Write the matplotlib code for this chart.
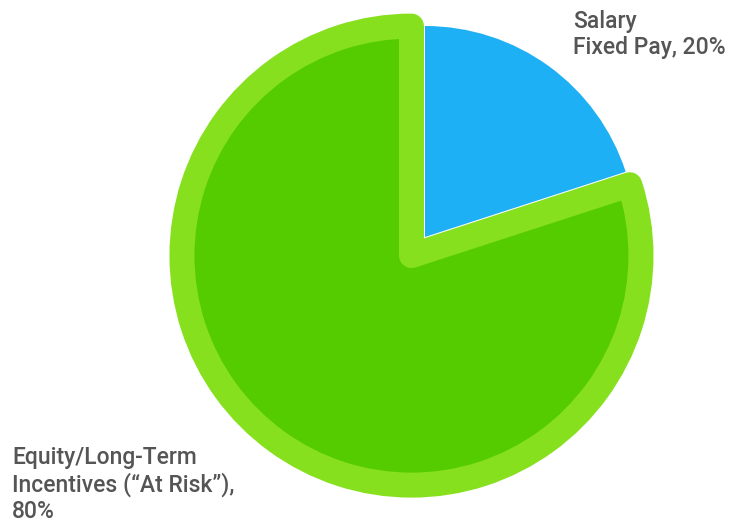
import matplotlib
matplotlib.use("Agg")
import matplotlib.pyplot as plt

categories = ["Salary Fixed Pay", "Equity/Long-Term Incentives (\u201cAt Risk\u201d)"]
values = [20, 80]
label_texts = ["Salary\nFixed Pay, 20%", "Equity/Long-Term\nIncentives (\u201cAt Risk\u201d),\n80%"]
colors = ["#1EB0F4", "#55CC00"]
border_color = "#86E01E"

W, H = 733, 525
fig = plt.figure(figsize=(W / 100, H / 100), dpi=100)
ax = fig.add_axes([0, 0, 1, 1])

wedges, _ = ax.pie(values, startangle=90, counterclock=False, colors=colors,
                   center=(425, H - 237), radius=211, explode=[0, 23],
                   frame=True)
ax.set_xlim(0, W)
ax.set_ylim(0, H)
ax.set_aspect("equal")
ax.axis("off")
g = wedges[1]
g.set_radius(229.5)
g.set_edgecolor(border_color)
g.set_linewidth(18)
g.set_joinstyle("round")
g.set_zorder(3)
wedges[0].set_zorder(2)

font = dict(family=["Roboto", "DejaVu Sans"], fontsize=16.5, fontweight="medium",
            color="#555555", linespacing=1.17)
ax.text(573, H - 10, label_texts[0], ha="left", va="top", **font)
ax.text(12, H - 446, label_texts[1], ha="left", va="top", **font)

fig.savefig("out.png", dpi=100)
